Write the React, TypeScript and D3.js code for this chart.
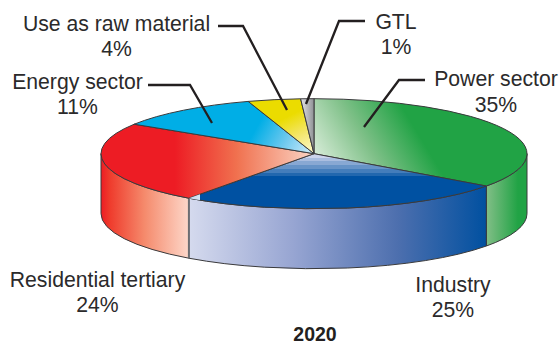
import React from "react";
import * as d3 from "d3";

const sectors = ["Power sector", "Industry", "Residential tertiary", "Energy sector", "Use as raw material", "GTL"];
const shares = [35, 25, 24, 11, 4, 1];
const chartYear = "2020";

const W = 560;
const H = 341;
const CX = 314;
const CY = 153.7;
const RX = 213;
const RY = 55;
const DEPTH = 60;
const OUTLINE = "#3a3a3c";
const INK = "#2b2a2b";
const FONT = "'Liberation Sans', Arial, sans-serif";

// Projects a pie angle (clockwise from twelve o'clock) onto the tilted disc.
const xScale = d3.scaleLinear().domain([-1, 1]).range([CX - RX, CX + RX]);
const yScale = d3.scaleLinear().domain([-1, 1]).range([CY - RY, CY + RY]);
const px = (a: number) => xScale(Math.sin(a));
const py = (a: number) => yScale(-Math.cos(a));

const slices = d3.pie<number>().sort(null).value((d) => d)(shares);

function topPath(a0: number, a1: number) {
  const large = a1 - a0 > Math.PI ? 1 : 0;
  return `M${CX},${CY}L${px(a0)},${py(a0)}A${RX},${RY} 0 ${large} 1 ${px(a1)},${py(a1)}Z`;
}

// Wall between two angles on the near half of the disc; a0 < a1 runs right to left.
function sidePath(a0: number, a1: number) {
  return (
    `M${px(a0)},${py(a0)}A${RX},${RY} 0 0 1 ${px(a1)},${py(a1)}` +
    `L${px(a1)},${py(a1) + DEPTH}A${RX},${RY} 0 0 0 ${px(a0)},${py(a0) + DEPTH}Z`
  );
}

const topFills = ["topGreen", "topBlue", "topRed", "topCyan", "topYellow", "topGrey"];

// Visible wall stretches, one per sector that reaches the front of the disc.
const walls = [
  { a0: Math.PI / 2, a1: slices[0].endAngle, fill: "sideGreen" },
  { a0: slices[1].startAngle, a1: slices[1].endAngle, fill: "sideBlue" },
  { a0: slices[2].startAngle, a1: (3 * Math.PI) / 2, fill: "sideRed" },
];

type Stop = [number, string, number?];
const grad = (id: string, x1: number, y1: number, x2: number, y2: number, stops: Stop[]) => (
  <linearGradient key={id} id={id} gradientUnits="userSpaceOnUse" x1={x1} y1={y1} x2={x2} y2={y2}>
    {stops.map(([o, c, a], i) => (
      <stop key={i} offset={o} stopColor={c} stopOpacity={a ?? 1} />
    ))}
  </linearGradient>
);

// The industry wedge shades in visible steps, so its gradient uses hard stops.
const BAND_COUNT = 7;
const bandColor = d3.interpolateRgb("#ccd4ec", "#0051a2");
const blueBands: Stop[] = d3.range(BAND_COUNT).flatMap((i) => {
  const c = bandColor(i / (BAND_COUNT - 1));
  return [
    [i / BAND_COUNT, c],
    [(i + 1) / BAND_COUNT, c],
  ] as Stop[];
});

const labels = [
  { lines: [sectors[0], `${shares[0]}%`], x: 496, y: 86 },
  { lines: [sectors[1], `${shares[1]}%`], x: 453, y: 291.5 },
  { lines: [sectors[2], `${shares[2]}%`], x: 97.5, y: 286.5 },
  { lines: [sectors[3], `${shares[3]}%`], x: 77.5, y: 88.5 },
  { lines: [sectors[4], `${shares[4]}%`], x: 116.5, y: 30.5 },
  { lines: [sectors[5], `${shares[5]}%`], x: 396, y: 28.5 },
];

const leaders: [number, number][][] = [
  [[425, 80], [399, 80], [364, 127]],
  [[148, 85], [190, 85], [212, 123]],
  [[218, 26], [243, 26], [287, 110]],
  [[365, 21], [339, 21], [306, 104]],
];

const leaderLine = d3.line();

export default function App() {
  return (
    <svg
      width={W}
      height={H}
      viewBox={`0 0 ${W} ${H}`}
      style={{ position: "absolute", left: 0, top: 0, background: "#fff" }}
    >
      <defs>
        {grad("topGreen", 318, 158, 402, 107, [[0, "#d5ebd6"], [0.5, "#7fc088"], [1, "#21a345"]])}
        {grad("topBlue", 0, 154, 0, 180, blueBands)}
        {grad("topBlueTip", 188, 0, 200, 0, [[0, "#c9d3ea"], [0.999, "#d5e4f2"], [1, "#d5e4f2", 0]])}
        {grad("topRed", 312, 0, 175, 0, [[0, "#fbd3c3"], [0.55, "#f0714f"], [1, "#ed1c24"]])}
        {grad("topCyan", 312, 156, 258, 125, [[0, "#d5eefa"], [0.5, "#6cc8ee"], [1, "#00aee6"]])}
        {grad("topYellow", 312, 152, 293, 114, [[0, "#fdf8c8"], [0.5, "#f3e66a"], [1, "#ebdc00"]])}
        {grad("topGrey", 302, 0, 314, 0, [[0, "#dcdce0"], [1, "#8f9195"]])}
        {grad("sideRed", 101, 0, 188, 0, [[0, "#ed1c24"], [0.1, "#ef3b2c"], [0.5, "#f58a6c"], [1, "#fdd6c8"]])}
        {grad("sideBlue", 189, 0, 487, 0, [[0, "#d5daee"], [0.35, "#97a5d2"], [0.7, "#4d6fae"], [1, "#0050a0"]])}
        {grad("sideGreen", 487, 0, 518, 0, [[0, "#80be86"], [1, "#21a345"]])}
      </defs>

      {walls.map((w, i) => (
        <path
          key={i}
          d={sidePath(w.a0, w.a1)}
          fill={`url(#${w.fill})`}
          stroke={OUTLINE}
          strokeWidth={1}
          strokeLinejoin="round"
        />
      ))}
      {/* Heavier seam where the residential and industry walls meet */}
      <line
        x1={px(slices[1].endAngle)}
        x2={px(slices[1].endAngle)}
        y1={py(slices[1].endAngle)}
        y2={py(slices[1].endAngle) + DEPTH}
        stroke="#6d6e71"
        strokeWidth={1.8}
      />

      {slices.map((s, i) => (
        <path
          key={i}
          d={topPath(s.startAngle, s.endAngle)}
          fill={`url(#${topFills[i]})`}
          stroke={OUTLINE}
          strokeWidth={1}
          strokeLinejoin="round"
        />
      ))}
      {/* Pale tip at the left end of the industry wedge */}
      <path d={topPath(slices[1].startAngle, slices[1].endAngle)} fill="url(#topBlueTip)" />

      {leaders.map((pts, i) => (
        <path key={i} d={leaderLine(pts) ?? ""} fill="none" stroke="#231f20" strokeWidth={2.3} />
      ))}

      {labels.map((l, i) => (
        <text key={i} textAnchor="middle" fontFamily={FONT} fontSize={21.2} fill={INK}>
          {l.lines.map((t, j) => (
            <tspan key={j} x={l.x} y={l.y + j * 25.5}>
              {t}
            </tspan>
          ))}
        </text>
      ))}

      <text x={315} y={340.5} textAnchor="middle" fontFamily={FONT} fontSize={19.5} fontWeight="bold" fill="#231f20">
        {chartYear}
      </text>
    </svg>
  );
}
